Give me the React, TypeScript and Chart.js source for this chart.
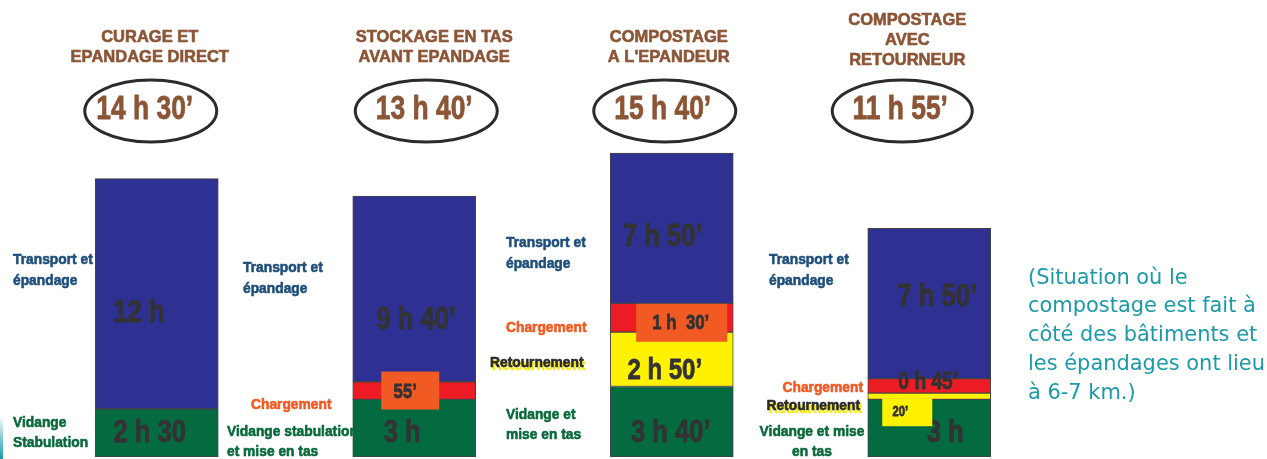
import React, { useEffect, useRef } from "react";
import { Chart, registerables } from "chart.js";

Chart.register(...registerables);

// ---------- DATA ----------
const categories = [
  "CURAGE ET EPANDAGE DIRECT",
  "STOCKAGE EN TAS AVANT EPANDAGE",
  "COMPOSTAGE A L'EPANDEUR",
  "COMPOSTAGE AVEC RETOURNEUR",
];
const headerLines = [
  ["CURAGE ET", "EPANDAGE DIRECT"],
  ["STOCKAGE EN TAS", "AVANT EPANDAGE"],
  ["COMPOSTAGE", "A L'EPANDEUR"],
  ["COMPOSTAGE", "AVEC", "RETOURNEUR"],
];
const totalLabels = ["14 h 30’", "13 h 40’", "15 h 40’", "11 h 55’"];

// durations in hours
const vidange = [2.5, 3, 3.67, 3];
const retournement = [null, null, 2.83, 0.33];
const chargement = [null, 0.92, 1.5, 0.75];
const transport = [12, 9.67, 7.83, 7.83];

const vidangeLabels = ["2 h 30", "3 h", "3 h 40’", "3 h"];
const retournementLabels = [null, null, "2 h 50’", "20’"];
const chargementLabels = [null, "55’", "1 h  30’", "0 h 45’"];
const transportLabels = ["12 h", "9 h 40’", "7 h 50’", "7 h 50’"];

const noteLines = [
  "(Situation où le",
  "compostage est fait à",
  "côté des bâtiments et",
  "les épandages ont lieu",
  "à 6-7 km.)",
];

// ---------- STYLE ----------
const C_GREEN = "#046B41";
const C_YELLOW = "#FFF200";
const C_RED = "#ED1C24";
const C_BLUE = "#2E3192";
const C_ORANGE = "#F15A22";
const C_BROWN = "#8B5536";
const C_LBLUE = "#1E4F7C";
const C_LGREEN = "#0A6A3C";
const C_VAL = "#333333";
const C_TEAL = "#1B9AA8";

const NARROW = '"Liberation Sans", Arial, sans-serif';

function txt(
  ctx: CanvasRenderingContext2D,
  s: string,
  x: number,
  y: number,
  font: string,
  color: string,
  align: CanvasTextAlign = "left",
  sx = 1,
  thick = 0
) {
  ctx.save();
  ctx.translate(x, y);
  ctx.scale(sx, 1);
  ctx.font = font;
  ctx.fillStyle = color;
  ctx.textAlign = align;
  ctx.textBaseline = "middle";
  ctx.fillText(s, 0, 0);
  if (thick > 0) {
    ctx.strokeStyle = color;
    ctx.lineWidth = thick;
    ctx.lineJoin = "round";
    ctx.strokeText(s, 0, 0);
  }
  ctx.restore();
}

const headerDx = [-7, 20, -3, -22];
const ellDx = [-6, 12, -7, -27];
const ellRx = [66, 71, 71, 70];
const totalDx = [-12, 10, -9, -29];

type VL = { dx: number; dy: number; size: number; box?: { w: number; h: number; dx: number; dy: number; color: string } };
const valueStyle: (VL | null)[][] = [
  [
    { dx: -7, dy: 0, size: 32 },
    { dx: -12, dy: 5, size: 32 },
    { dx: -1, dy: 11, size: 32 },
    { dx: 16, dy: 5, size: 32 },
  ],
  [
    null,
    null,
    { dx: -7, dy: 11, size: 30 },
    { dx: -29, dy: 16, size: 14, box: { w: 50, h: 28, dx: -22, dy: 16, color: C_YELLOW } },
  ],
  [
    null,
    { dx: -9, dy: 2, size: 21, box: { w: 58, h: 38, dx: -4, dy: 0, color: C_ORANGE } },
    { dx: 9, dy: 5, size: 21, box: { w: 91, h: 38, dx: 10, dy: 5, color: C_ORANGE } },
    { dx: -1, dy: -3, size: 24 },
  ],
  [
    { dx: -18, dy: 19, size: 32 },
    { dx: 2, dy: 31, size: 32 },
    { dx: -9, dy: 9, size: 32 },
    { dx: 8, dy: -6, size: 32 },
  ],
];
const allLabels = [vidangeLabels, retournementLabels, chargementLabels, transportLabels];

const overlay = {
  id: "overlay",
  afterDatasetsDraw(chart: any) {
    const ctx: CanvasRenderingContext2D = chart.ctx;
    const xs = chart.scales.x;

    categories.forEach((_, i) => {
      const px = xs.getPixelForValue(i);
      const lines = headerLines[i];
      const top = lines.length === 3 ? 20 : 37;
      lines.forEach((l, j) => {
        txt(ctx, l, px + headerDx[i], top + j * 20, `bold 16.5px ${NARROW}`, C_BROWN, "center", 1, 0.6);
      });
      ctx.save();
      ctx.beginPath();
      ctx.ellipse(px + ellDx[i], 111, ellRx[i], 31, 0, 0, Math.PI * 2);
      ctx.lineWidth = 3;
      ctx.strokeStyle = "#2B2B2B";
      ctx.stroke();
      ctx.restore();
      txt(ctx, totalLabels[i], px + totalDx[i], 110, `bold 33px ${NARROW}`, C_BROWN, "center", 0.8, 0.8);
    });

    allLabels.forEach((labels, d) => {
      const meta = chart.getDatasetMeta(d);
      labels.forEach((lab, i) => {
        const st = valueStyle[d][i];
        if (!lab || !st) return;
        const el = meta.data[i];
        if (!el) return;
        const cx = el.x;
        const cy = (el.y + el.base) / 2;
        if (st.box) {
          ctx.fillStyle = st.box.color;
          ctx.fillRect(cx + st.box.dx - st.box.w / 2, cy + st.box.dy - st.box.h / 2, st.box.w, st.box.h);
        }
        txt(ctx, lab, cx + st.dx, cy + st.dy, `bold ${st.size}px ${NARROW}`, C_VAL, "center", 0.8, 0.8);
      });
    });

    const F = `bold 15px ${NARROW}`;
    const SX = 0.92;
    const TH = 0.6;
    const blue: [number, number][] = [[13, 260], [243, 268], [506, 243], [769, 260]];
    blue.forEach(([x, y]) => {
      txt(ctx, "Transport et", x, y, F, C_LBLUE, "left", SX, TH);
      txt(ctx, "épandage", x, y + 21, F, C_LBLUE, "left", SX, TH);
    });
    txt(ctx, "Chargement", 251, 405, F, C_ORANGE, "left", SX, TH);
    txt(ctx, "Chargement", 506, 328, F, C_ORANGE, "left", SX, TH);
    txt(ctx, "Chargement", 863, 388, F, C_ORANGE, "right", SX, TH);
    const ret = (x: number, y: number, align: CanvasTextAlign) => {
      txt(ctx, "Retournement", x + 2, y + 3, F, "#F7EC1C", align, SX, TH);
      txt(ctx, "Retournement", x, y, F, "#2A2A2A", align, SX, TH);
    };
    ret(490, 363, "left");
    ret(860, 406, "right");
    txt(ctx, "Vidange", 13, 423, F, C_LGREEN, "left", SX, TH);
    txt(ctx, "Stabulation", 13, 443, F, C_LGREEN, "left", SX, TH);
    txt(ctx, "Vidange stabulation", 227, 432, F, C_LGREEN, "left", SX, TH);
    txt(ctx, "et mise en tas", 227, 452, F, C_LGREEN, "left", SX, TH);
    txt(ctx, "Vidange et", 506, 415, F, C_LGREEN, "left", SX, TH);
    txt(ctx, "mise en tas", 506, 435, F, C_LGREEN, "left", SX, TH);
    txt(ctx, "Vidange et mise", 812, 432, F, C_LGREEN, "center", SX, TH);
    txt(ctx, "en tas", 812, 452, F, C_LGREEN, "center", SX, TH);

    const NF = '22px "DejaVu Sans", sans-serif';
    ctx.save();
    ctx.font = NF;
    const w = ctx.measureText(noteLines[3]).width;
    ctx.restore();
    const nsx = 237 / w;
    noteLines.forEach((l, j) => {
      txt(ctx, l, 1028, 278 + j * 28.7, NF, C_TEAL, "left", nsx);
    });

    // slide decoration at the left edge
    const g = ctx.createLinearGradient(0, 415, 0, 459);
    g.addColorStop(0, "rgba(27,154,168,0)");
    g.addColorStop(1, "rgba(27,154,168,1)");
    ctx.fillStyle = g;
    ctx.fillRect(0, 415, 3, 44);
  },
};

export default function App() {
  const ref = useRef<HTMLCanvasElement | null>(null);
  useEffect(() => {
    if (!ref.current) return;
    const common = { borderColor: "#444444", borderWidth: 1, borderSkipped: false as const, barThickness: 123 };
    const chart = new Chart(ref.current, {
      type: "bar",
      data: {
        labels: categories,
        datasets: [
          { label: "Vidange et mise en tas", data: vidange, backgroundColor: C_GREEN, ...common },
          { label: "Retournement", data: retournement as any, backgroundColor: C_YELLOW, ...common },
          { label: "Chargement", data: chargement as any, backgroundColor: C_RED, ...common },
          { label: "Transport et épandage", data: transport, backgroundColor: C_BLUE, ...common },
        ],
      },
      options: {
        responsive: false,
        animation: false,
        layout: { padding: { left: 28, right: 209, top: 0, bottom: 2 } },
        scales: {
          x: { display: false, stacked: true },
          y: { display: false, stacked: true, min: 0, max: 23.8 },
        },
        plugins: { legend: { display: false }, tooltip: { enabled: false } },
      },
      plugins: [overlay],
    });
    return () => chart.destroy();
  }, []);
  return (
    <div style={{ position: "absolute", left: 0, top: 0, width: 1267, height: 459, background: "#fff" }}>
      <canvas ref={ref} width={1267} height={459} style={{ display: "block" }} />
    </div>
  );
}
